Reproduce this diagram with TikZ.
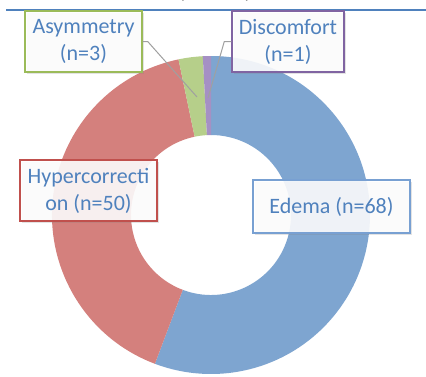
\documentclass[tikz,border=0pt]{standalone}
\usepackage{fontspec}
\setmainfont{Carlito}
\usetikzlibrary{shadows}
\definecolor{cEdema}{RGB}{126,165,208}
\definecolor{cHyper}{RGB}{212,128,125}
\definecolor{cAsym}{RGB}{182,207,138}
\definecolor{cDisc}{RGB}{165,144,196}
\definecolor{bEdema}{RGB}{120,160,210}
\definecolor{bHyper}{RGB}{192,80,77}
\definecolor{bAsym}{RGB}{155,187,89}
\definecolor{bDisc}{RGB}{128,100,162}
\definecolor{txtblue}{RGB}{79,129,189}
\definecolor{leader}{RGB}{160,160,160}
\definecolor{axisblue}{RGB}{79,129,189}
\tikzset{
  lbl/.style={draw=#1, line width=1.4pt, fill=white, fill opacity=0.88, text opacity=1,
    text=txtblue, align=center, inner sep=0pt,
    font=\fontsize{22}{27}\selectfont,
    drop shadow={opacity=0.22, shadow xshift=1.8pt, shadow yshift=-1.8pt}},
  leaderline/.style={draw=leader, line width=1pt},
}
\newcommand{\donutslice}[3]{% color, start angle, end angle (TikZ angles)
  \fill[#1] (ctr) ++(#2:159) arc[start angle=#2, end angle=#3, radius=159]
    -- ($(ctr)+(#3:80)$) arc[start angle=#3, end angle=#2, radius=80] -- cycle;}
\usetikzlibrary{calc}
\begin{document}
\begin{tikzpicture}[x=1pt,y=-1pt]
\useasboundingbox (0,0) rectangle (426,376);
\fill[white] (0,0) rectangle (426,376);
% partial title (cut off at top)
\begin{scope}
\clip (0,0) rectangle (426,376);
\node[text=gray, font=\fontsize{22}{27}\selectfont, anchor=base] (title) at (215,-2) {(\hspace{60pt})};
\end{scope}
\coordinate (lineL) at (6,10);
\coordinate (lineR) at (426,10);
\draw[axisblue, line width=1.3pt] (lineL) -- (lineR);
% donut
\coordinate (ctr) at (211,215);
\donutslice{cEdema}{-90}{110.66}
\donutslice{cHyper}{110.66}{258.20}
\donutslice{cAsym}{258.20}{267.05}
\donutslice{cDisc}{267.05}{270}
% leader end points
\coordinate (asyend) at (197,97);
\coordinate (discend) at (208,98);
% labels
\node[lbl=bAsym, minimum width=117pt, minimum height=61pt] (asy) at (83.5,41.5) {Asymmetry\\(n=3)};
\node[lbl=bDisc, minimum width=112pt, minimum height=61pt] (disc) at (288,41.5) {Discomfort\\(n=1)};
\node[lbl=bHyper, minimum width=137pt, minimum height=61pt] (hyp) at (88.5,190.5) {Hypercorrecti\\on (n=50)};
\node[lbl=bEdema, minimum width=157pt, minimum height=53pt] (ede) at (331.5,206.5) {Edema (n=68)};
% leaders
\draw[leaderline] (asy.east) -- ++(5,0) -- (asyend);
\draw[leaderline] (disc.west) -- ++(-7,0) -- (discend);
\end{tikzpicture}
\end{document}
